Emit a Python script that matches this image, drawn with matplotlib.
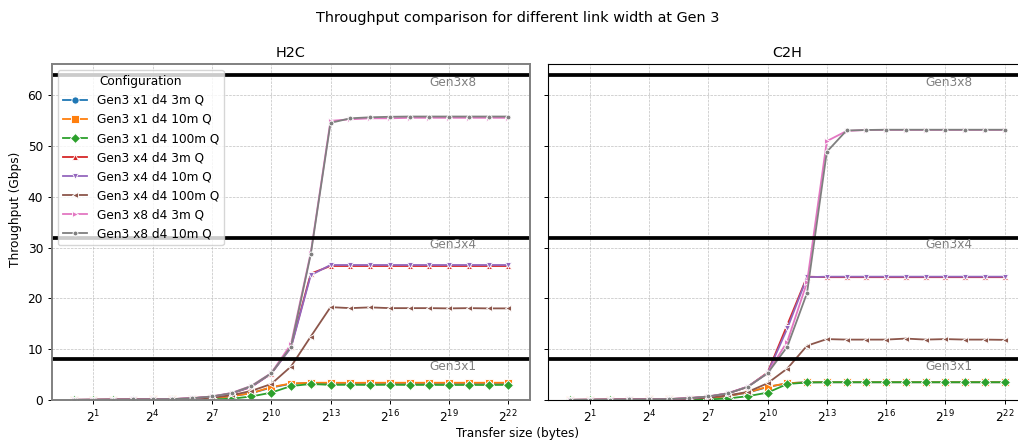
import numpy as np
import matplotlib
matplotlib.use("Agg")
import matplotlib.pyplot as plt
from matplotlib.ticker import FixedLocator, LogFormatterSciNotation, NullLocator

sizes = [1, 2, 4, 8, 16, 32, 64, 128, 256, 512, 1024, 2048, 4096, 8192, 16384,
         32768, 65536, 131072, 262144, 524288, 1048576, 2097152, 4194304]

configs = ["Gen3 x1 d4 3m Q", "Gen3 x1 d4 10m Q", "Gen3 x1 d4 100m Q",
           "Gen3 x4 d4 3m Q", "Gen3 x4 d4 10m Q", "Gen3 x4 d4 100m Q",
           "Gen3 x8 d4 3m Q", "Gen3 x8 d4 10m Q"]

# H2C throughput (Gbps)
h2c_x1_3m = [0.02, 0.04, 0.06, 0.09, 0.11, 0.14, 0.19, 0.33, 0.75, 1.35, 2.45, 3.2, 3.35, 3.35, 3.35, 3.35, 3.35, 3.35, 3.35, 3.35, 3.35, 3.35, 3.35]
h2c_x1_10m = [0.02, 0.04, 0.06, 0.09, 0.11, 0.14, 0.19, 0.33, 0.75, 1.35, 2.55, 3.25, 3.4, 3.4, 3.38, 3.4, 3.4, 3.4, 3.4, 3.4, 3.4, 3.4, 3.4]
h2c_x1_100m = [0.01, 0.02, 0.03, 0.04, 0.05, 0.06, 0.08, 0.12, 0.25, 0.7, 1.45, 2.75, 3.15, 2.98, 3.0, 2.97, 3.0, 2.97, 2.98, 2.96, 2.97, 2.96, 2.98]
h2c_x4_3m = [0.03, 0.05, 0.08, 0.1, 0.13, 0.18, 0.35, 0.65, 1.3, 2.6, 5.2, 10.5, 24.9, 26.4, 26.4, 26.4, 26.4, 26.4, 26.4, 26.4, 26.4, 26.4, 26.4]
h2c_x4_10m = [0.03, 0.05, 0.08, 0.1, 0.13, 0.18, 0.35, 0.65, 1.3, 2.6, 5.2, 10.3, 24.6, 26.6, 26.6, 26.6, 26.6, 26.6, 26.6, 26.6, 26.6, 26.6, 26.6]
h2c_x4_100m = [0.02, 0.04, 0.06, 0.08, 0.1, 0.14, 0.25, 0.45, 0.95, 1.8, 3.15, 6.6, 12.5, 18.3, 18.1, 18.25, 18.1, 18.1, 18.1, 18.05, 18.1, 18.05, 18.05]
h2c_x8_3m = [0.03, 0.05, 0.08, 0.1, 0.13, 0.18, 0.35, 0.7, 1.4, 2.8, 5.3, 11.0, 29.0, 55.0, 55.3, 55.5, 55.5, 55.6, 55.6, 55.6, 55.6, 55.6, 55.6]
h2c_x8_10m = [0.03, 0.05, 0.08, 0.1, 0.13, 0.18, 0.35, 0.7, 1.35, 2.75, 5.25, 10.5, 28.7, 54.6, 55.5, 55.7, 55.8, 55.85, 55.85, 55.85, 55.85, 55.85, 55.85]

# C2H throughput (Gbps)
c2h_x1_3m = [0.02, 0.04, 0.06, 0.09, 0.11, 0.14, 0.2, 0.35, 0.8, 1.45, 2.55, 3.3, 3.5, 3.5, 3.5, 3.5, 3.5, 3.5, 3.5, 3.5, 3.5, 3.5, 3.5]
c2h_x1_10m = [0.02, 0.04, 0.06, 0.09, 0.11, 0.14, 0.2, 0.35, 0.8, 1.5, 2.6, 3.3, 3.5, 3.5, 3.5, 3.5, 3.5, 3.5, 3.5, 3.5, 3.5, 3.5, 3.5]
c2h_x1_100m = [0.01, 0.02, 0.03, 0.04, 0.05, 0.06, 0.08, 0.12, 0.3, 0.75, 1.45, 3.15, 3.45, 3.5, 3.5, 3.5, 3.5, 3.5, 3.5, 3.5, 3.5, 3.5, 3.5]
c2h_x4_3m = [0.03, 0.05, 0.08, 0.1, 0.13, 0.18, 0.35, 0.65, 1.3, 2.6, 5.4, 14.8, 24.3, 24.2, 24.2, 24.2, 24.2, 24.2, 24.2, 24.2, 24.2, 24.2, 24.2]
c2h_x4_10m = [0.03, 0.05, 0.08, 0.1, 0.13, 0.18, 0.35, 0.65, 1.3, 2.6, 5.3, 14.1, 24.2, 24.3, 24.3, 24.3, 24.3, 24.3, 24.3, 24.3, 24.3, 24.3, 24.3]
c2h_x4_100m = [0.02, 0.04, 0.06, 0.08, 0.1, 0.14, 0.25, 0.45, 0.9, 1.6, 3.3, 6.2, 10.7, 12.0, 11.9, 11.9, 11.9, 12.1, 11.9, 12.0, 11.9, 11.9, 11.85]
c2h_x8_3m = [0.03, 0.05, 0.08, 0.1, 0.13, 0.18, 0.35, 0.7, 1.35, 2.65, 5.3, 11.5, 23.2, 51.0, 53.0, 53.2, 53.2, 53.2, 53.2, 53.2, 53.2, 53.2, 53.2]
c2h_x8_10m = [0.03, 0.05, 0.08, 0.1, 0.13, 0.18, 0.35, 0.7, 1.3, 2.6, 5.25, 10.5, 21.1, 48.9, 53.1, 53.2, 53.25, 53.25, 53.25, 53.25, 53.25, 53.25, 53.25]

link_levels = [8, 32, 64]
link_labels = ["Gen3x1", "Gen3x4", "Gen3x8"]

h2c = [h2c_x1_3m, h2c_x1_10m, h2c_x1_100m, h2c_x4_3m, h2c_x4_10m, h2c_x4_100m, h2c_x8_3m, h2c_x8_10m]
c2h = [c2h_x1_3m, c2h_x1_10m, c2h_x1_100m, c2h_x4_3m, c2h_x4_10m, c2h_x4_100m, c2h_x8_3m, c2h_x8_10m]

colors = ["#1f77b4", "#ff7f0e", "#2ca02c", "#d62728", "#9467bd", "#8c564b", "#e377c2", "#7f7f7f"]
markers = ["o", "s", "D", "^", "v", "<", ">", "."]
msizes = [5.2, 5.2, 5.4, 4.5, 4.7, 4.5, 4.5, 7]

FS = 8.7
plt.rcParams["font.size"] = FS
plt.rcParams["xtick.labelsize"] = FS
plt.rcParams["ytick.labelsize"] = FS
plt.rcParams["xtick.major.width"] = 0.7
plt.rcParams["ytick.major.width"] = 0.7
plt.rcParams["xtick.major.size"] = 3.0
plt.rcParams["ytick.major.size"] = 3.0

W, H = 1018, 441
fig = plt.figure(figsize=(W / 100, H / 100), dpi=100)
ax1 = fig.add_axes([52 / W, 41 / H, 478 / W, 336 / H])
ax2 = fig.add_axes([548.3 / W, 41 / H, 478 / W, 336 / H], sharey=ax1)

for ax, data, title in [(ax1, h2c, "H2C"), (ax2, c2h, "C2H")]:
    for i, (lab, ys) in enumerate(zip(configs, data)):
        ax.plot(sizes, ys, color=colors[i], marker=markers[i], markersize=msizes[i],
                markeredgecolor="white", markeredgewidth=0.65, linewidth=1.3, label=lab)
    for lvl, txt in zip(link_levels, link_labels):
        ax.axhline(lvl, color="black", linewidth=2.7)
        ax.text(2 ** 18, lvl - 0.15, txt, color="gray", fontsize=FS, ha="left", va="top")
    ax.set_xscale("log", base=2)
    ax.xaxis.set_major_locator(FixedLocator([2.0 ** k for k in range(1, 23, 3)]))
    ax.xaxis.set_major_formatter(LogFormatterSciNotation(base=2))
    ax.xaxis.set_minor_locator(NullLocator())
    ax.grid(True, linestyle="--", linewidth=0.5, color="#b0b0b0", alpha=0.8)
    ax.set_title(title, fontsize=10.4, pad=5)
    for s in ax.spines.values():
        s.set_linewidth(0.8)

ax1.set_ylim(0, 66.2)
plt.setp(ax2.get_yticklabels(), visible=False)
for s in ax1.spines.values():
    s.set_color("#808080")
    s.set_linewidth(1.4)

ax1.legend(title="Configuration", loc="upper left", fontsize=FS, title_fontsize=FS,
           borderaxespad=0.5)

fig.text(16 / W, 232 / H, "Throughput (Gbps)", rotation=90, ha="center", va="center", fontsize=FS)
fig.text(518 / W, 1 - 18 / H, "Throughput comparison for different link width at Gen 3",
         ha="center", va="center", fontsize=10.4)
fig.text(518 / W, 8 / H, "Transfer size (bytes)", ha="center", va="center", fontsize=FS)

fig.savefig("out.png", dpi=100)
